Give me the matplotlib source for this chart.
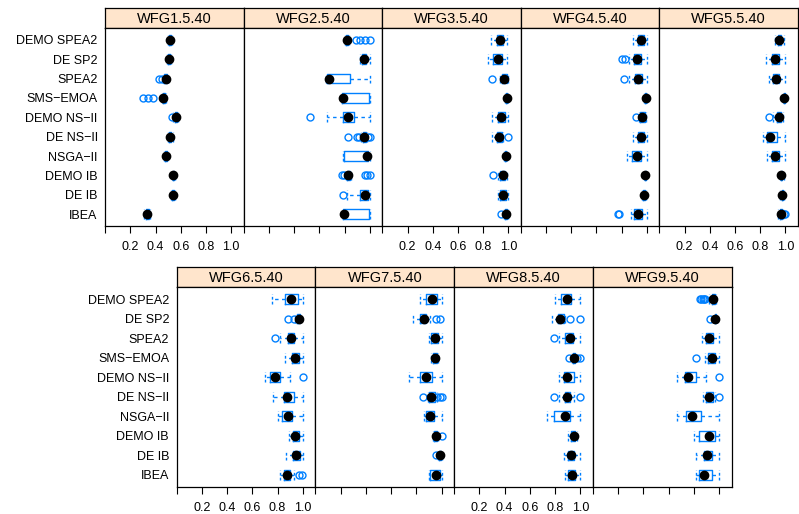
import matplotlib
matplotlib.use("Agg")
import matplotlib.pyplot as plt

plt.rcParams['font.family'] = ['Liberation Sans', 'DejaVu Sans']

algorithms = ["DEMO SPEA2", "DE SP2", "SPEA2", "SMS\u2212EMOA", "DEMO NS\u2212II",
              "DE NS\u2212II", "NSGA\u2212II", "DEMO IB", "DE IB", "IBEA"]
problems_top = ["WFG1.5.40", "WFG2.5.40", "WFG3.5.40", "WFG4.5.40", "WFG5.5.40"]
problems_bottom = ["WFG6.5.40", "WFG7.5.40", "WFG8.5.40", "WFG9.5.40"]
x_ticks = [0.0, 0.2, 0.4, 0.6, 0.8, 1.0]
x_tick_labels = ["", "0.2", "0.4", "0.6", "0.8", "1.0"]

# (lower whisker, Q1, median, Q3, upper whisker) for each algorithm, top to bottom
wfg1_box = [(0.50, 0.508, 0.515, 0.522, 0.53), (0.49, 0.498, 0.504, 0.51, 0.518),
            (0.46, 0.47, 0.48, 0.488, 0.495), (0.45, 0.455, 0.462, 0.472, 0.48),
            (0.54, 0.55, 0.56, 0.567, 0.575), (0.50, 0.508, 0.515, 0.525, 0.535),
            (0.47, 0.475, 0.48, 0.487, 0.492), (0.53, 0.535, 0.541, 0.547, 0.552),
            (0.52, 0.528, 0.536, 0.546, 0.555), (0.305, 0.32, 0.334, 0.345, 0.355)]
wfg1_out = [[], [], [0.43, 0.45], [0.30, 0.34, 0.38], [0.528], [], [], [], [], []]

wfg2_box = [(0.80, 0.808, 0.816, 0.825, 0.835), (0.92, 0.94, 0.952, 0.97, 1.0),
            (0.655, 0.662, 0.678, 0.843, 1.0), (0.776, 0.78, 0.79, 0.99, 1.0),
            (0.662, 0.784, 0.83, 0.874, 1.0), (0.93, 0.945, 0.954, 0.97, 0.98),
            (0.79, 0.795, 0.98, 0.988, 1.0), (0.81, 0.82, 0.829, 0.84, 0.85),
            (0.816, 0.922, 0.962, 0.988, 1.0), (0.79, 0.79, 0.797, 0.993, 1.0)]
wfg2_out = [[0.89, 0.92, 0.96, 1.0], [], [], [], [0.525],
            [0.824, 0.9, 0.915, 0.988, 1.0], [], [0.78, 0.795, 0.96, 0.975, 1.0],
            [0.79], []]

wfg3_box = [(0.86, 0.91, 0.93, 0.96, 0.99), (0.84, 0.88, 0.915, 0.947, 0.987),
            (0.93, 0.947, 0.968, 0.987, 1.0), (0.975, 0.982, 0.988, 0.993, 0.998),
            (0.868, 0.92, 0.942, 0.974, 1.0), (0.873, 0.908, 0.926, 0.947, 0.96),
            (0.965, 0.972, 0.979, 0.985, 0.99), (0.92, 0.935, 0.955, 0.974, 0.99),
            (0.916, 0.935, 0.96, 0.98, 1.0), (0.965, 0.974, 0.979, 0.99, 1.0)]
wfg3_out = [[], [], [0.868], [], [], [1.0], [], [0.88], [], [0.942]]

wfg4_box = [(0.89, 0.926, 0.952, 0.979, 1.0), (0.86, 0.9, 0.921, 0.952, 1.0),
            (0.86, 0.907, 0.931, 0.965, 1.0), (0.98, 0.987, 0.992, 0.996, 1.0),
            (0.935, 0.947, 0.965, 0.984, 0.995), (0.886, 0.926, 0.952, 0.979, 1.0),
            (0.84, 0.88, 0.918, 0.952, 1.0), (0.975, 0.982, 0.987, 0.992, 0.997),
            (0.965, 0.972, 0.979, 0.986, 0.992), (0.873, 0.9, 0.931, 0.965, 1.0)]
wfg4_out = [[], [0.80, 0.828], [0.82], [], [0.915], [], [], [], [], [0.767, 0.78]]

wfg5_box = [(0.92, 0.94, 0.952, 0.965, 0.99), (0.846, 0.894, 0.921, 0.952, 1.0),
            (0.868, 0.9, 0.926, 0.947, 1.0), (0.98, 0.985, 0.99, 0.995, 1.0),
            (0.9, 0.93, 0.947, 0.965, 0.98), (0.822, 0.854, 0.881, 0.933, 1.0),
            (0.854, 0.894, 0.915, 0.952, 1.0), (0.955, 0.962, 0.968, 0.976, 0.985),
            (0.96, 0.97, 0.976, 0.982, 0.99), (0.945, 0.955, 0.963, 0.972, 0.98)]
wfg5_out = [[], [], [], [], [0.87], [], [], [], [], [0.985, 1.0]]

wfg6_box = [(0.756, 0.862, 0.907, 0.963, 1.0), (0.94, 0.955, 0.968, 0.975, 0.981),
            (0.822, 0.88, 0.907, 0.933, 1.0), (0.862, 0.915, 0.941, 0.973, 1.0),
            (0.702, 0.742, 0.782, 0.816, 0.896), (0.764, 0.848, 0.875, 0.933, 1.0),
            (0.80, 0.835, 0.88, 0.915, 1.0), (0.893, 0.923, 0.941, 0.968, 1.0),
            (0.867, 0.923, 0.949, 0.975, 1.0), (0.822, 0.848, 0.875, 0.901, 0.928)]
wfg6_out = [[], [0.88, 0.933], [0.777], [], [1.0], [], [], [], [], [0.973, 0.994]]

wfg7_box = [(0.832, 0.88, 0.926, 0.966, 1.0), (0.774, 0.832, 0.859, 0.88, 0.907),
            (0.904, 0.92, 0.947, 0.974, 1.0), (0.92, 0.935, 0.947, 0.96, 0.975),
            (0.739, 0.832, 0.88, 0.926, 1.0), (0.89, 0.9, 0.92, 0.945, 0.96),
            (0.859, 0.88, 0.907, 0.939, 1.0), (0.93, 0.94, 0.952, 0.962, 0.97),
            (0.97, 0.978, 0.987, 0.994, 1.0), (0.904, 0.912, 0.958, 0.99, 1.0)]
wfg7_out = [[], [0.955, 0.99], [], [], [], [0.851, 0.966, 0.987, 1.0], [], [1.0], [0.952], []]

wfg8_box = [(0.803, 0.85, 0.895, 0.926, 1.0), (0.776, 0.821, 0.842, 0.868, 0.88),
            (0.834, 0.882, 0.916, 0.939, 1.0), (0.93, 0.94, 0.947, 0.955, 0.96),
            (0.829, 0.868, 0.895, 0.947, 1.0), (0.834, 0.882, 0.895, 0.921, 0.952),
            (0.737, 0.789, 0.876, 0.921, 1.0), (0.90, 0.929, 0.947, 0.96, 0.974),
            (0.868, 0.90, 0.929, 0.952, 1.0), (0.882, 0.90, 0.934, 0.96, 1.0)]
wfg8_out = [[], [0.921, 1.0], [0.795], [0.913, 0.974, 1.0], [], [0.795, 1.0], [], [], [], []]

wfg9_box = [(0.92, 0.94, 0.953, 0.966, 0.979), (0.955, 0.965, 0.971, 0.979, 0.985),
            (0.861, 0.9, 0.921, 0.948, 1.0), (0.89, 0.913, 0.94, 0.966, 1.0),
            (0.663, 0.729, 0.755, 0.814, 0.895), (0.87, 0.9, 0.921, 0.948, 0.97),
            (0.663, 0.735, 0.782, 0.855, 1.0), (0.80, 0.842, 0.921, 0.966, 1.0),
            (0.816, 0.879, 0.908, 0.94, 1.0), (0.816, 0.842, 0.879, 0.94, 1.0)]
wfg9_out = [[0.848, 0.858, 0.869, 0.878, 0.887], [0.927], [], [0.814], [1.0], [1.0],
            [], [], [], []]

top_boxes = [wfg1_box, wfg2_box, wfg3_box, wfg4_box, wfg5_box]
top_outs = [wfg1_out, wfg2_out, wfg3_out, wfg4_out, wfg5_out]
bottom_boxes = [wfg6_box, wfg7_box, wfg8_box, wfg9_box]
bottom_outs = [wfg6_out, wfg7_out, wfg8_out, wfg9_out]

W, H = 799, 514
fig = plt.figure(figsize=(W / 100, H / 100), dpi=100)
BLUE = '#0080ff'
STRIP = '#ffe5cc'
positions = list(range(len(algorithms), 0, -1))


def rect(x0, y_top, w, h):
    return [x0 / W, (H - y_top - h) / H, w / W, h / H]


def draw_panel(x0, y_strip, strip_h, data_h, w, title, box, outs, first, labelled):
    sax = fig.add_axes(rect(x0, y_strip, w, strip_h))
    sax.set_facecolor(STRIP)
    sax.set_xticks([]); sax.set_yticks([])
    for s in sax.spines.values():
        s.set_linewidth(0.9)
    sax.text(0.5, 0.45, title, ha='center', va='center', fontsize=10.5,
             transform=sax.transAxes)

    ax = fig.add_axes(rect(x0, y_strip + strip_h, w, data_h))
    stats = []
    for (lo, q1, med, q3, hi), fl in zip(box, outs):
        stats.append(dict(whislo=lo, q1=q1, med=med, q3=q3, whishi=hi, fliers=fl))
    kw = dict(positions=positions, widths=0.5, capwidths=0.5, showfliers=True,
              boxprops=dict(color=BLUE, lw=1.0),
              whiskerprops=dict(color=BLUE, lw=1.0, ls=(0, (2.5, 2.5))),
              capprops=dict(color=BLUE, lw=1.0, ls=(0, (2, 1.5))),
              medianprops=dict(visible=False),
              flierprops=dict(marker='o', mfc='none', mec=BLUE, ms=5, mew=1.0,
                              ls='none'))
    try:
        ax.bxp(stats, orientation='horizontal', **kw)
    except TypeError:
        ax.bxp(stats, vert=False, **kw)
    meds = [b[2] for b in box]
    ax.plot(meds, positions, 'o', color='black', ms=6.0, zorder=5)
    ax.set_xlim(0.0, 1.1)
    ax.set_ylim(0.4, len(algorithms) + 0.6)
    ax.set_xticks(x_ticks)
    ax.set_xticklabels(x_tick_labels if labelled else [""] * len(x_ticks))
    ax.tick_params(axis='x', direction='out', length=4.8, width=0.8, pad=6.5,
                   labelsize=9)
    ax.set_yticks(positions)
    if first:
        ax.set_yticklabels(algorithms)
    else:
        ax.set_yticklabels([])
    ax.tick_params(axis='y', length=0, pad=5.5, labelsize=9)
    for s in ax.spines.values():
        s.set_linewidth(0.9)
    return ax


tw = (798.0 - 105.3) / 5
for i, (t, b, o) in enumerate(zip(problems_top, top_boxes, top_outs)):
    draw_panel(105.3 + i * tw, 8.3, 20.0, 197.4, tw, t, b, o, i == 0, i % 2 == 0)

bw = (731.7 - 176.7) / 4
for i, (t, b, o) in enumerate(zip(problems_bottom, bottom_boxes, bottom_outs)):
    draw_panel(176.7 + i * bw, 267.3, 20.0, 199.4, bw, t, b, o, i == 0, i % 2 == 0)

fig.savefig("out.png", dpi=100)
